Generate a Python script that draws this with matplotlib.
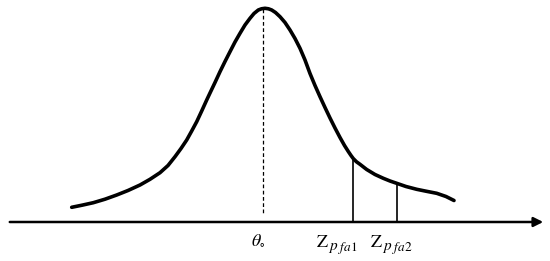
import matplotlib.pyplot as plt
from matplotlib.patches import FancyArrowPatch

# hand-drawn density curve (pixel coords, y down)
curve_x = [71.7, 82, 93.3, 105, 116.7, 128, 140, 150, 160, 168,
           175, 181, 186.7, 191.7, 196.7, 201.7, 206.7, 210, 215, 220,
           225, 230, 235, 240, 245, 250, 254, 258.3, 261.5, 265,
           268.5, 271.7, 275.5, 280, 285, 290, 295, 300, 305, 310,
           315, 320, 325, 330, 335, 340, 344.5, 348.3, 351, 353.3,
           356.5, 360, 366.7, 375, 383.3, 390, 396.7, 406, 416.7, 426,
           436.7, 446, 454]
curve_y = [207.3, 205.2, 202.7, 199.2, 195, 190.5, 185, 179.3, 172.7, 165.5,
           156.7, 148.5, 140, 131, 121.7, 111, 100, 93, 82.5, 71.7,
           61.5, 51.7, 42, 33.3, 25, 18.3, 13.5, 10, 8.8, 8.3,
           8.8, 10, 12.5, 16.7, 22.5, 30, 38.5, 48.3, 60, 73.5,
           85.5, 96.7, 107.5, 118, 128, 137.5, 145.5, 151.5, 155.5, 158.6,
           161.8, 164.3, 169.5, 174.5, 178.3, 181, 183.3, 186.5, 189.3, 191.2,
           193.3, 196.5, 200.5]

theta0_x = 263.3
z_x = [352.7, 396.7]
z_y = [159, 184]
z_subs = ['fa1', 'fa2']
z_label_x = [315.5, 370]
axis_y = 222

plt.rcParams['mathtext.fontset'] = 'stix'

fig = plt.figure(figsize=(5.5, 2.61), dpi=100)
ax = fig.add_axes([0, 0, 1, 1])
ax.set_xlim(0, 550)
ax.set_ylim(261, 0)
ax.axis('off')

ax.plot(curve_x, curve_y, color='black', linewidth=2.6,
        solid_capstyle='round', solid_joinstyle='round')

# dashed line at the peak
ax.plot([theta0_x, theta0_x], [9, 214], color='black', linewidth=0.9,
        linestyle=(0, (3, 2)))

# threshold lines
for x, y in zip(z_x, z_y):
    ax.plot([x, x], [y, axis_y], color='black', linewidth=1.2)

# horizontal axis with arrow
arrow = FancyArrowPatch((7, axis_y), (546, axis_y), arrowstyle='-|>',
                        mutation_scale=14, color='black', linewidth=1.8)
ax.add_patch(arrow)

ax.text(251, 246, r'$\theta_{\circ}$', fontsize=13, ha='left', va='baseline')

# Z_{p_{fa}} labels built from pieces so the subscripts stay readable
for lx, sub in zip(z_label_x, z_subs):
    ax.text(lx, 247, r'$\mathrm{Z}$', fontsize=13, ha='left', va='baseline')
    ax.text(lx + 12.5, 250, r'$p$', fontsize=11, ha='left', va='baseline')
    ax.text(lx + 22.5, 250.5, r'$' + sub + '$', fontsize=9.5, ha='left', va='baseline')

fig.savefig('out.png', dpi=100)
